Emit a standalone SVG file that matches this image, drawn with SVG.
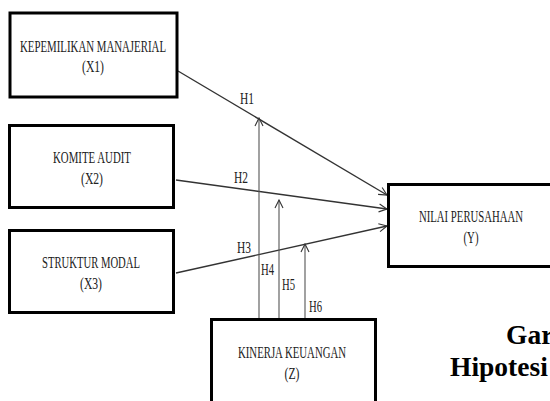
<svg xmlns="http://www.w3.org/2000/svg" width="550" height="401" viewBox="0 0 550 401">
<style>
.box{fill:#fff;stroke:#000;stroke-width:3}
.t{font-family:"Liberation Serif","Times New Roman",serif;font-size:17px;fill:#222;text-anchor:middle}
.lbl{font-family:"Liberation Serif","Times New Roman",serif;font-size:16px;fill:#222}
.c{stroke:#333;stroke-width:1.4;fill:none;marker-end:url(#arr)}
.v{stroke:#555;stroke-width:1.1;fill:none;marker-end:url(#arr)}
.cap{font-family:"Liberation Serif","Times New Roman",serif;font-size:27.5px;font-weight:bold;fill:#000}
</style>
<defs>
<marker id="arr" markerWidth="10" markerHeight="10" refX="9" refY="5" orient="auto" markerUnits="userSpaceOnUse">
<path d="M1,1 L9,5 L1,9" fill="none" stroke="#333" stroke-width="1.1"/>
</marker>
</defs>
<rect width="550" height="401" fill="#fff"/>
<g id="connectors">
<line class="c" x1="178" y1="71" x2="387" y2="195"/>
<line class="c" x1="176" y1="180" x2="387" y2="209"/>
<line class="c" x1="176" y1="273" x2="387" y2="226"/>
<line class="v" x1="259" y1="318" x2="259" y2="118"/>
<line class="v" x1="279" y1="318" x2="279" y2="200"/>
<line class="v" x1="305" y1="318" x2="305" y2="244"/>
<text class="lbl" x="240" y="104" textLength="14" lengthAdjust="spacingAndGlyphs">H1</text>
<text class="lbl" x="234" y="183" textLength="14" lengthAdjust="spacingAndGlyphs">H2</text>
<text class="lbl" x="237" y="253" textLength="14" lengthAdjust="spacingAndGlyphs">H3</text>
<text class="lbl" x="261" y="275" textLength="13" lengthAdjust="spacingAndGlyphs">H4</text>
<text class="lbl" x="282" y="290" textLength="13" lengthAdjust="spacingAndGlyphs">H5</text>
<text class="lbl" x="309" y="312" textLength="13" lengthAdjust="spacingAndGlyphs">H6</text>
</g>
<g id="x1">
<rect class="box" x="10" y="13" width="167" height="84"/>
<text class="t" x="93" y="52" textLength="146" lengthAdjust="spacingAndGlyphs">KEPEMILIKAN MANAJERIAL</text>
<text class="t" x="93" y="72" textLength="22" lengthAdjust="spacingAndGlyphs">(X1)</text>
</g>
<g id="x2">
<rect class="box" x="9.5" y="125.5" width="164" height="82"/>
<text class="t" x="92" y="163" textLength="78" lengthAdjust="spacingAndGlyphs">KOMITE AUDIT</text>
<text class="t" x="92" y="184" textLength="22" lengthAdjust="spacingAndGlyphs">(X2)</text>
</g>
<g id="x3">
<rect class="box" x="9.5" y="230.5" width="164" height="82"/>
<text class="t" x="91" y="268" textLength="98" lengthAdjust="spacingAndGlyphs">STRUKTUR MODAL</text>
<text class="t" x="91" y="289" textLength="22" lengthAdjust="spacingAndGlyphs">(X3)</text>
</g>
<g id="y">
<rect class="box" x="388.5" y="184.5" width="200" height="82"/>
<text class="t" x="471" y="222" textLength="104" lengthAdjust="spacingAndGlyphs">NILAI PERUSAHAAN</text>
<text class="t" x="471" y="243" textLength="15" lengthAdjust="spacingAndGlyphs">(Y)</text>
</g>
<g id="z">
<rect class="box" x="211.5" y="319.5" width="164" height="100"/>
<text class="t" x="292" y="358" textLength="108" lengthAdjust="spacingAndGlyphs">KINERJA KEUANGAN</text>
<text class="t" x="292" y="379" textLength="15" lengthAdjust="spacingAndGlyphs">(Z)</text>
</g>
<g id="caption">
<text class="cap" x="506" y="344">Gar</text>
<text class="cap" x="450" y="376">Hipotesi</text>
</g>
</svg>
